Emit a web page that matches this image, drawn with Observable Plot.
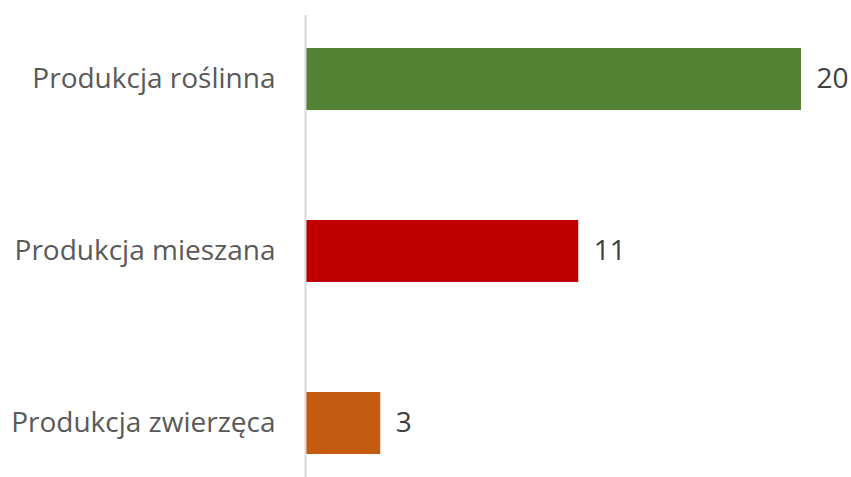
<!DOCTYPE html>
<html><head><meta charset="utf-8">
<script src="https://cdn.jsdelivr.net/npm/d3@7"></script>
<script src="https://cdn.jsdelivr.net/npm/@observablehq/plot@0.6"></script>
<style>body{margin:0;background:#fff;} svg{font-family:"Open Sans",sans-serif;}</style>
</head><body><div id="chart"></div>
<script>
const categories = ["Produkcja roślinna", "Produkcja mieszana", "Produkcja zwierzęca"];
const values = [20, 11, 3];
const colors = ["#548235", "#C00000", "#C55A11"];
const data = categories.map((c, i) => ({category: c, value: values[i], color: colors[i]}));
const chart = Plot.plot({
  width: 851, height: 477,
  marginLeft: 305, marginRight: 50, marginTop: 15, marginBottom: 0,
  style: {fontSize: "28px", color: "#595959", fontFamily: "Open Sans, sans-serif"},
  x: {domain: [0, 20], range: [306, 801], axis: null},
  y: {domain: categories, range: [47, 454], paddingInner: 0.64, paddingOuter: 0, label: null, tickSize: 0, tickPadding: 30},
  marks: [
    Plot.barX(data, {x: "value", y: "category", fill: "color"}),
    Plot.ruleX([0], {stroke: "#d9d9d9", strokeWidth: 2, dx: -1}),
    Plot.text(data, {x: "value", y: "category", text: d => String(d.value), textAnchor: "start", dx: 15, fill: "#404040", fontSize: 28})
  ]
});
document.getElementById("chart").appendChild(chart);
</script></body></html>
